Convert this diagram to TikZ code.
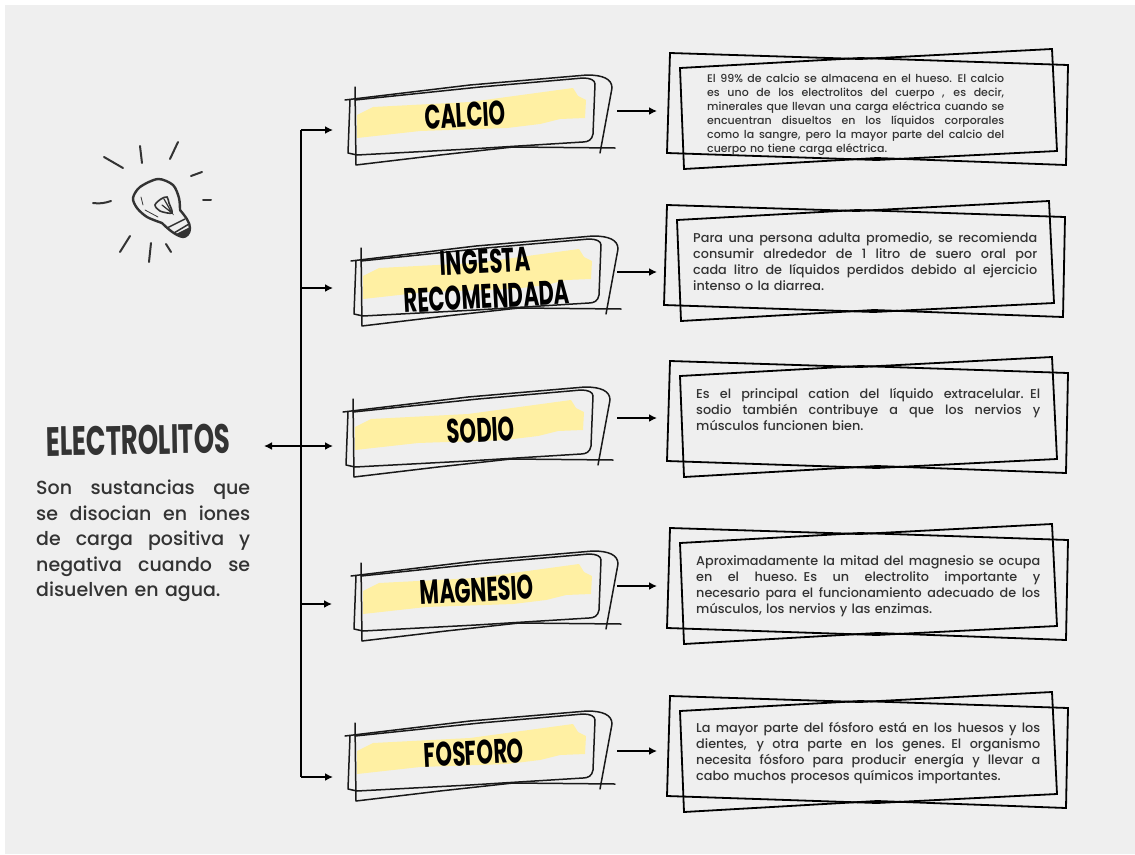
\documentclass[tikz,border=0pt]{standalone}
\usepackage{fontspec}
\setmainfont{Poppins Medium}
\newfontfamily\handfont[FakeStretch=0.62]{Poppins}
\usetikzlibrary{arrows.meta}
\newcommand{\jl}[2][344pt]{\leavevmode\hbox to #1{\spaceskip=.25em plus 1fil\relax #2}\par}

\begin{document}
\begin{tikzpicture}[x=1pt,y=-1pt,auto]
\definecolor{paper}{HTML}{EFEFEF}
\definecolor{marker}{HTML}{FFF0A3}
\definecolor{ink}{HTML}{333333}
\tikzstyle{label} = [font=\handfont\bfseries\fontsize{34}{33}\selectfont, text=black, inner sep=0pt];
\tikzstyle{info} = [anchor=north west, inner sep=0pt, text=ink, text width=344pt, font=\fontsize{12.8}{16}\selectfont];
\tikzstyle{pen} = [draw=black!90, line width=1.5pt, line cap=round, line join=round];
\tikzstyle{frame} = [draw=black, line width=1.8pt, line join=miter];
\tikzstyle{line} = [draw=black, line width=1.8pt, -{Latex[length=8pt,width=8pt]}];
\tikzstyle{ray} = [draw=ink, line width=2pt, line cap=round];

\useasboundingbox (0,0) rectangle (1135,854);
\fill[white] (0,0) rectangle (1135,854);
\fill[paper] (5,5) rectangle (1135,854);

% sketched boxes
\foreach \name/\dx/\dy in {calcio/0/0, ingesta/6/161, sodio/-2/312, magnesio/6/476, fosforo/0/636}
{
\begin{scope}[shift={(\dx,\dy)}]
\fill[marker] (357,115) -- (373,107) -- (470,102) -- (573,88) -- (578,96) -- (586,100) -- (585,118) -- (560,119) -- (540,124) -- (507,128) -- (420,131) -- (357,138) -- cycle;
\draw[pen] (345,100) -- (470,85) -- (587,75) .. controls (603,75) and (612,79) .. (612,88) -- (600,153);
\draw[pen] (355,87) -- (356,165) -- (440,155) -- (513,147) -- (615,148);
\draw[pen] (355,100) -- (480,87) -- (583,78) .. controls (590,78) and (595,80) .. (595,84) -- (593,134) .. controls (592,140) and (588,142) .. (583,142) -- (470,149) -- (357,155) -- (348,153) -- (350,100);
\end{scope}
}

% sketched frames
\foreach \name/\dx/\dy in {calcio/0/0, ingesta/-3/152, sodio/0/308, magnesio/0/475, fosforo/0/643}
{
\begin{scope}[shift={(\dx,\dy)}]
\draw[frame] (670,53) -- (860,59) -- (1052,49) -- (1057,151) -- (877,160) -- (667,153) -- cycle;
\draw[frame] (680,68) -- (860,58) -- (1068,65) -- (1066,165) -- (877,158) -- (684,169) -- cycle;
\end{scope}
}

% labels
\node [label, rotate=3] (calcio) at (465,115) {CALCIO};
\node [label, rotate=3, align=center] (ingesta) at (486,279) {INGESTA\\[2pt]RECOMENDADA};
\node [label, rotate=3] (sodio) at (481,430) {SODIO};
\node [label, rotate=3] (magnesio) at (477,590) {MAGNESIO};
\node [label, rotate=3] (fosforo) at (474,753) {FOSFORO};
\node [label, rotate=1, xscale=1.02, text=ink, font=\handfont\bfseries\fontsize{41}{41}\selectfont] (electrolitos) at (138,440) {ELECTROLITOS};

% left text
\node [info, text width=214pt, font=\fontsize{19}{25.5}\selectfont] (intro) at (36,480) {
\jl[214pt]{Son sustancias que}
\jl[214pt]{se disocian en iones}
\jl[214pt]{de carga positiva y}
\jl[214pt]{negativa cuando se}
disuelven en agua.};

% texts in the frames
\node [info, text width=297pt, font=\fontsize{11}{14}\selectfont] (calcioText) at (707,74) {
\jl[297pt]{El 99\% de calcio se almacena en el hueso. El calcio}
\jl[297pt]{es uno de los electrolitos del cuerpo , es decir,}
\jl[297pt]{minerales que llevan una carga eléctrica cuando se}
\jl[297pt]{encuentran disueltos en los líquidos corporales}
\jl[297pt]{como la sangre, pero la mayor parte del calcio del}
cuerpo no tiene carga eléctrica.};
\node [info] (ingestaText) at (693,232) {
\jl{Para una persona adulta promedio, se recomienda}
\jl{consumir alrededor de 1 litro de suero oral por}
\jl{cada litro de líquidos perdidos debido al ejercicio}
intenso o la diarrea.};
\node [info] (sodioText) at (696,388) {
\jl{Es el principal cation del líquido extracelular. El}
\jl{sodio también contribuye a que los nervios y}
músculos funcionen bien.};
\node [info] (magnesioText) at (696,555) {
\jl{Aproximadamente la mitad del magnesio se ocupa}
\jl{en el hueso. Es un electrolito importante y}
\jl{necesario para el funcionamiento adecuado de los}
músculos, los nervios y las enzimas.};
\node [info] (fosforoText) at (696,722) {
\jl{La mayor parte del fósforo está en los huesos y los}
\jl{dientes, y otra parte en los genes. El organismo}
\jl{necesita fósforo para producir energía y llevar a}
cabo muchos procesos químicos importantes.};

% bulb
\draw[ray] (104,157) -- (123,168);
\draw[ray] (140,146) -- (142,163);
\draw[ray] (178,142) -- (170,159);
\draw[ray] (202,172) -- (191,176);
\draw[ray] (203,200) -- (211,200);
\draw[ray] (93,203) .. controls (100,204) and (105,203) .. (111,201);
\draw[ray] (130,236) -- (120,252);
\draw[ray] (151,243) -- (149,262);
\draw[ray] (166,244) -- (171,252);
\draw[ray, line width=2.4pt] plot[smooth] coordinates {(162,223) (147,217) (137,208) (133,198) (140,187) (158,179) (173,185) (179,198) (180,210)};
\draw[ray, line width=2.4pt, line join=round] (180,210) .. controls (185,216) and (190,222) .. (190,228) .. controls (190,234) and (186,237) .. (183,237) .. controls (176,236) and (168,229) .. (162,223);
\draw[ray, line width=1.5pt] (167,228) -- (185,219);
\draw[ray, line width=1.5pt] (174,233) -- (189,224);
\fill[ink] (176,234) -- (190,227) -- (189,234) -- (183,238) -- cycle;
\draw[ray, line width=1.6pt] plot[smooth cycle] coordinates {(172,213) (169,203) (167,197) (161,199) (155,205) (160,211)};
\draw[ray, line width=1.2pt] (162,205) -- (172,213) -- (164,199);
\draw[ray, line width=.8pt] (141,197) -- (143,205);
\draw[ray, line width=.8pt] (145,210) -- (158,217);

% connectors
\coordinate (top) at (301,130);
\coordinate (bottom) at (301,777);
\coordinate (center) at (301,446);
\coordinate (calcioIn) at (333,130);
\coordinate (ingestaIn) at (333,288);
\coordinate (sodioIn) at (333,446);
\coordinate (magnesioIn) at (332,604);
\coordinate (fosforoIn) at (333,777);
\coordinate (electrolitosOut) at (264,446);
\draw[draw=black, line width=2pt] (top) -- (bottom);
\path[line] (top) -- (calcioIn);
\path[line] (top |- ingestaIn) -- (ingestaIn);
\path[line] (center) -- (sodioIn);
\path[line] (center) -- (electrolitosOut);
\path[line] (top |- magnesioIn) -- (magnesioIn);
\path[line] (bottom) -- (fosforoIn);
\foreach \name/\y in {calcio/111, ingesta/272, sodio/418, magnesio/586, fosforo/751}
{
\coordinate (\name Out) at (617,\y);
\coordinate (\name End) at (657,\y);
\path[line] (\name Out) -- (\name End);
}
\end{tikzpicture}
\end{document}
